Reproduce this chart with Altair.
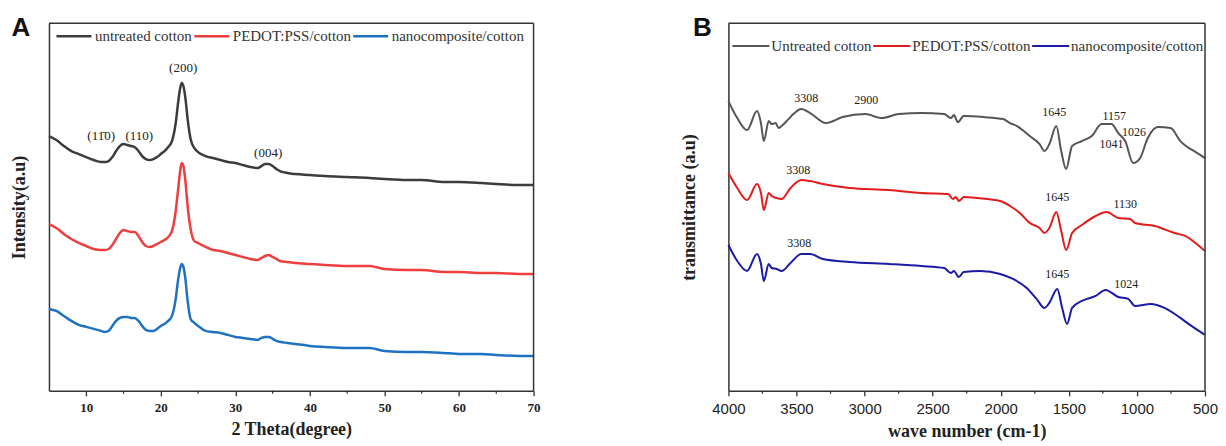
import altair as alt
import pandas as pd

# ---------------- Panel A : XRD ----------------
theta = [5, 6, 7, 8, 9, 10, 11, 12, 12.5, 13, 13.5, 14, 14.5, 15, 15.5, 16, 16.5, 17, 17.5, 18,
         18.5, 19, 19.5, 20, 20.5, 21, 21.5, 22, 22.3, 22.6, 22.8, 23, 23.3, 23.6, 24, 24.5, 25,
         26, 27, 28, 29, 30, 31, 32, 33, 33.5, 34, 34.5, 35, 35.5, 36, 37, 38, 40, 42, 45, 48, 50,
         53, 55, 58, 60, 63, 65, 68, 70]
xrd_untreated = [255, 251, 245, 240, 237, 234, 231, 229, 229, 230, 234, 240, 245, 247, 246, 245, 244, 240, 235, 232,
                 231, 232, 234, 237, 240, 244, 250, 268, 287, 303, 308, 306, 293, 272, 252, 243, 239,
                 235, 233, 231, 229, 228, 226, 224, 223, 225, 227, 227, 225, 222, 220, 218, 217, 216, 215, 214, 213, 212,
                 211, 211, 209, 209, 208, 207, 206, 206]
xrd_pedot = [167, 163, 157, 152, 148, 145, 142, 141, 141, 142, 146, 152, 158, 161, 160, 159, 159, 155, 149, 145,
             144, 145, 147, 149, 151, 154, 160, 180, 200, 220, 228, 226, 210, 185, 162, 150, 148,
             144, 141, 140, 138, 136, 134, 132, 131, 133, 135, 136, 134, 132, 130, 129, 128, 127, 126, 125, 125, 122,
             121, 121, 119, 119, 118, 118, 117, 117]
xrd_nano = [82, 80, 75, 70, 66, 64, 62, 60, 59, 60, 65, 70, 73, 74, 74, 73, 73, 70, 65, 61,
            60, 60, 62, 65, 67, 70, 75, 92, 110, 123, 127, 125, 112, 90, 72, 68, 65,
            60, 59, 58, 56, 54, 53, 52, 51, 53, 54, 54, 52, 50, 49, 48, 47, 45, 44, 43, 43, 40,
            39, 39, 38, 37, 37, 36, 35, 35]
series_a = ["untreated cotton", "PEDOT:PSS/cotton", "nanocomposite/cotton"]
colors_a = ["#3c3c3c", "#ee3f3f", "#1f72c0"]

ann_a_text = ["(11\u03040)", "(110)", "(200)", "(004)"]
ann_a_x = [12.0, 17.1, 23.0, 34.4]
ann_a_y = [255, 255, 323, 238]

ticks_a = [10, 20, 30, 40, 50, 60, 70]
minor_a = [15, 25, 35, 45, 55, 65]

# ---------------- Panel B : FTIR ----------------
wn_untreated = [4000, 3935, 3863, 3790, 3761, 3740, 3704, 3682, 3653, 3631, 3610, 3559, 3523, 3465, 3400, 3284,
                3161, 2995, 2872, 2749, 2583, 2416, 2366, 2344, 2315, 2272, 2127, 1983, 1932, 1881, 1787,
                1715, 1679, 1643, 1592, 1556, 1520, 1476, 1404, 1332, 1259, 1187, 1137, 1086, 1028, 977,
                920, 847, 753, 681, 630, 580, 500]
ir_untreated = [290, 273, 261, 280, 268, 250, 270, 267, 268, 263, 265, 272, 277, 282, 278, 268,
                274, 277, 273, 277, 278, 277, 273, 276, 269, 275, 274, 272, 268, 265, 255,
                247, 240, 247, 265, 240, 222, 245, 250, 255, 267, 267, 258, 250, 228, 233,
                253, 264, 263, 250, 244, 240, 233]
wn_pedot = [4000, 3935, 3863, 3790, 3761, 3740, 3704, 3682, 3646, 3610, 3544, 3465, 3400, 3306, 3111, 2821,
            2583, 2387, 2351, 2330, 2308, 2272, 2171, 2004, 1932, 1860, 1787, 1715, 1679, 1643, 1592,
            1556, 1520, 1476, 1404, 1303, 1223, 1137, 1050, 1014, 869, 724, 630, 580, 500]
ir_pedot = [218, 203, 191, 207, 198, 181, 198, 195, 193, 192, 203, 211, 210, 207, 203, 201,
            198, 197, 192, 194, 190, 194, 193, 190, 185, 178, 168, 163, 158, 163, 179,
            160, 141, 158, 166, 175, 179, 173, 172, 168, 165, 158, 154, 149, 140]
wn_nano = [4000, 3935, 3863, 3790, 3761, 3740, 3704, 3682, 3646, 3610, 3544, 3465, 3400, 3306, 3111, 2821,
           2583, 2416, 2366, 2344, 2308, 2272, 2149, 2004, 1910, 1809, 1737, 1679, 1643, 1585, 1549,
           1513, 1476, 1404, 1303, 1231, 1137, 1064, 1014, 898, 797, 681, 600, 500]
ir_nano = [146, 130, 120, 137, 127, 110, 127, 123, 122, 120, 128, 137, 137, 132, 129, 127,
           125, 123, 118, 120, 114, 119, 120, 117, 112, 103, 92, 83, 88, 102, 83,
           67, 83, 90, 95, 101, 94, 92, 85, 87, 83, 73, 65, 56]
series_b = ["Untreated cotton", "PEDOT:PSS/cotton", "nanocomposite/cotton"]
colors_b = ["#555555", "#e31b1b", "#1b1ba3"]

ann_b_text = ["3308", "2900", "1645", "1157", "1041", "1026",
              "3308", "1645", "1130",
              "3308", "1645", "1024"]
ann_b_x = [3428, 2988, 1607, 1166, 1187, 1021,
           3487, 1585, 1086,
           3479, 1585, 1079]
ann_b_y = [293, 291, 279, 275, 247, 259,
           221, 194, 187,
           148, 117, 107]

ticks_b = [4000, 3500, 3000, 2500, 2000, 1500, 1000, 500]
minor_b = [3750, 3250, 2750, 2250, 1750, 1250, 750]

W_A, W_B, H = 485, 477, 368
SERIF = "Liberation Serif"
SANS = "Liberation Sans"
FRAME = "#333333"

# ---------------- build tables ----------------
df_a = pd.concat([
    pd.DataFrame({"x": theta, "y": vals, "series": name})
    for name, vals in zip(series_a, [xrd_untreated, xrd_pedot, xrd_nano])
])
df_b = pd.concat([
    pd.DataFrame({"x": xs, "y": ys, "series": name})
    for name, xs, ys in zip(series_b, [wn_untreated, wn_pedot, wn_nano], [ir_untreated, ir_pedot, ir_nano])
])
ann_a = pd.DataFrame({"x": ann_a_x, "y": ann_a_y, "t": ann_a_text})
ann_b = pd.DataFrame({"x": ann_b_x, "y": ann_b_y, "t": ann_b_text})


def x_enc(domain, values, title, label_font, label_weight, label_size, reverse=False):
    return alt.X(
        "x:Q",
        scale=alt.Scale(domain=domain, nice=False, zero=False, reverse=reverse),
        axis=alt.Axis(
            values=values, title=title, format="d", grid=False,
            titleFont=SERIF, titleFontSize=18, titleFontWeight="bold", titleColor="#222",
            labelFont=label_font, labelFontWeight=label_weight, labelFontSize=label_size,
            labelColor="#222", labelPadding=6, labelFlush=False,
            tickSize=5, tickColor=FRAME, tickWidth=1.3,
            domainColor=FRAME, domainWidth=1.5, titlePadding=6,
        ),
    )


def y_enc(title, pad):
    return alt.Y(
        "y:Q",
        scale=alt.Scale(domain=[0, H], nice=False, zero=False),
        axis=alt.Axis(
            title=title, labels=False, ticks=False, grid=False,
            titleFont=SERIF, titleFontSize=18, titleFontWeight="bold", titleColor="#222",
            domainColor=FRAME, domainWidth=1.5, titlePadding=pad,
        ),
    )


def legend(x, y, stroke_w, sym, col_pad, offset):
    return alt.Legend(
        title=None, orient="none", legendX=x, legendY=y, direction="horizontal",
        symbolType="stroke", symbolSize=sym * sym, symbolStrokeWidth=stroke_w,
        labelFont=SERIF, labelFontSize=15, labelColor="#333", labelLimit=400,
        columnPadding=col_pad, labelOffset=offset, padding=0,
    )


def frame(w):
    # top and right edges of the plot frame (left/bottom are the axis domains)
    top = alt.Chart(pd.DataFrame({"f": [0]})).mark_rule(color=FRAME, strokeWidth=1.5).encode(
        x=alt.value(0), x2=alt.value(w), y=alt.value(0))
    right = alt.Chart(pd.DataFrame({"f": [0]})).mark_rule(color=FRAME, strokeWidth=1.5).encode(
        x=alt.value(w), y=alt.value(0), y2=alt.value(H))
    return [top, right]


# ---------------- Panel A ----------------
xa = x_enc([5, 70], ticks_a, "2 Theta(degree)", SERIF, "bold", 13)
ya = y_enc("Intensity(a.u)", 20)

lines_a = alt.Chart(df_a).mark_line(strokeWidth=2.5, interpolate="monotone").encode(
    x=xa, y=ya,
    color=alt.Color("series:N", scale=alt.Scale(domain=series_a, range=colors_a),
                    legend=legend(6, -6, 2.5, 35, -8, 2)),
)
text_a = alt.Chart(ann_a).mark_text(font=SERIF, fontSize=13, color="#222").encode(x=xa, y=ya, text="t:N")
minor_ticks_a = alt.Chart(pd.DataFrame({"x": minor_a})).mark_rule(color=FRAME, strokeWidth=1.2).encode(
    x=xa, y=alt.value(H), y2=alt.value(H + 3))
letter_a = alt.Chart(pd.DataFrame({"t": ["A"]})).mark_text(
    font=SANS, fontSize=26, fontWeight="bold", align="center", baseline="middle", color="#111"
).encode(x=alt.value(-28), y=alt.value(5), text="t:N")

panel_a = alt.layer(lines_a, text_a, minor_ticks_a, letter_a, *frame(W_A)).properties(width=W_A, height=H)

# ---------------- Panel B ----------------
xb = x_enc([500, 4000], ticks_b, "wave number (cm-1)", SANS, "normal", 15, reverse=True)
yb = y_enc("transmittance (a.u)", 30)

lines_b = alt.Chart(df_b).mark_line(strokeWidth=2, interpolate="monotone").encode(
    x=xb, y=yb,
    color=alt.Color("series:N", scale=alt.Scale(domain=series_b, range=colors_b),
                    legend=legend(3, 3, 2, 37, -11, 1)),
)
text_b = alt.Chart(ann_b).mark_text(font=SERIF, fontSize=12, color="#222").encode(x=xb, y=yb, text="t:N")
minor_ticks_b = alt.Chart(pd.DataFrame({"x": minor_b})).mark_rule(color=FRAME, strokeWidth=1.2).encode(
    x=xb, y=alt.value(H), y2=alt.value(H + 3))
letter_b = alt.Chart(pd.DataFrame({"t": ["B"]})).mark_text(
    font=SANS, fontSize=26, fontWeight="bold", align="center", baseline="middle", color="#111"
).encode(x=alt.value(-26), y=alt.value(5), text="t:N")

panel_b = alt.layer(lines_b, text_b, minor_ticks_b, letter_b, *frame(W_B)).properties(width=W_B, height=H)

chart = alt.hconcat(panel_a, panel_b, spacing=140).resolve_scale(
    x="independent", y="independent", color="independent"
).properties(
    padding={"left": 3, "top": 7, "right": 0, "bottom": 0},
    background="white",
).configure_view(stroke=None)

chart.save("out.html", embed_options={"renderer": "svg", "actions": False})
